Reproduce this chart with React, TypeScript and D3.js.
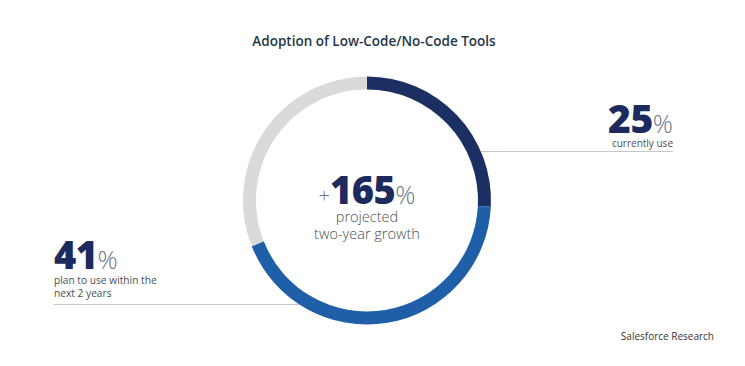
import * as d3 from "d3";

// ring shares (percent of the circle)
const segmentNames = ["Currently use", "Plan to use within the next 2 years", "Other"];
const segmentShares = [25.8, 43.2, 31];
const segmentColors = ["#1b2f63", "#1e5fa8", "#dadada"];

// callouts
const calloutValues = [25, 41];
const calloutLines = [["currently use"], ["plan to use within the", "next 2 years"]];
const growthValue = 165;
const growthLines = ["projected", "two-year growth"];

const title = "Adoption of Low-Code/No-Code Tools";
const source = "Salesforce Research";

export default function App() {
  const width = 745;
  const height = 366;
  const cx = 367;
  const cy = 200.5;
  const outerR = 124;
  const innerR = 111;

  const pie = d3.pie<number>().sort(null).value(d => d);
  const arcs = pie(segmentShares);
  const arc = d3.arc<d3.PieArcDatum<number>>().innerRadius(innerR).outerRadius(outerR);

  const font = "'Open Sans', sans-serif";
  const navy = "#1c2a5d";
  const pctColor = "#6e7688";
  const textColor = "#4a4f57";

  return (
    <svg
      width={width}
      height={height}
      style={{ position: "absolute", left: 0, top: 0, background: "#fff" }}
      fontFamily={font}
    >
      <text x={374} y={46} textAnchor="middle" fontSize={13.5} fontWeight={600} fill="#1f3748">
        {title}
      </text>

      {/* callout lines, behind the ring */}
      <line x1={cx} x2={673} y1={151.5} y2={151.5} stroke="#c4c7cc" strokeWidth={1} />
      <line x1={54} x2={cx} y1={304.5} y2={304.5} stroke="#c4c7cc" strokeWidth={1} />
      <circle cx={cx} cy={cy} r={outerR} fill="#fff" />

      <g transform={`translate(${cx},${cy})`}>
        {arcs.map((a, i) => (
          <path key={segmentNames[i]} d={arc(a) ?? ""} fill={segmentColors[i]} />
        ))}
      </g>

      {/* centre */}
      <text x={cx} y={204} textAnchor="middle">
        <tspan fontSize={20} fontWeight={300} fill={pctColor} dy={-1}>+</tspan>
        <tspan fontSize={38} fontWeight={800} fill={navy} dy={1} letterSpacing={-0.5}>{growthValue}</tspan>
        <tspan fontSize={25} fontWeight={300} fill={pctColor}>%</tspan>
      </text>
      {growthLines.map((l, i) => (
        <text key={l} x={cx} y={222 + i * 17} textAnchor="middle" fontSize={14.5} fontWeight={300} fill={textColor}>
          {l}
        </text>
      ))}

      {/* right callout */}
      <text x={673} y={133} textAnchor="end">
        <tspan fontSize={39} fontWeight={800} fill={navy} letterSpacing={-0.5}>{calloutValues[0]}</tspan>
        <tspan fontSize={25} fontWeight={300} fill={pctColor}>%</tspan>
      </text>
      {calloutLines[0].map((l, i) => (
        <text key={l} x={673} y={147 + i * 13} textAnchor="end" fontSize={10} fill={textColor}>
          {l}
        </text>
      ))}

      {/* left callout */}
      <text x={54} y={269}>
        <tspan fontSize={38} fontWeight={800} fill={navy} letterSpacing={-0.5}>{calloutValues[1]}</tspan>
        <tspan fontSize={25} fontWeight={300} fill={pctColor}>%</tspan>
      </text>
      {calloutLines[1].map((l, i) => (
        <text key={l} x={54} y={284 + i * 13} fontSize={10.2} fill={textColor}>
          {l}
        </text>
      ))}

      <text x={714} y={340} textAnchor="end" fontSize={10} fill="#333">
        {source}
      </text>
    </svg>
  );
}
